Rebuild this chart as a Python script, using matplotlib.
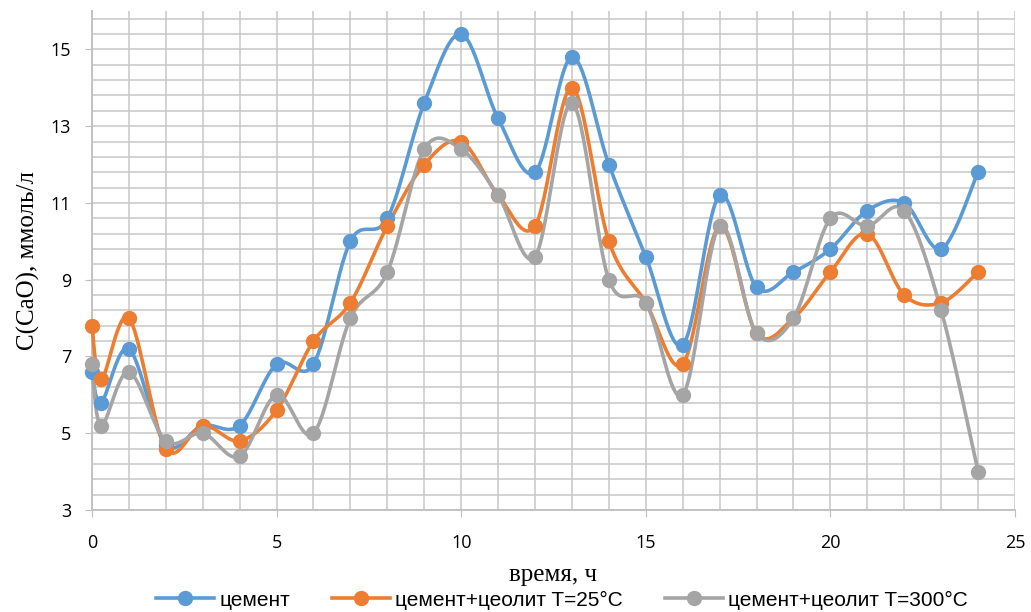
import numpy as np
from matplotlib import pyplot as plt
from matplotlib.lines import Line2D

hours = [0, 0.25, 1, 2, 3, 4, 5, 6, 7, 8, 9, 10, 11, 12, 13, 14, 15, 16, 17, 18, 19, 20, 21, 22, 23, 24]
cement = [6.6, 5.8, 7.2, 4.7, 5.2, 5.2, 6.8, 6.8, 10.0, 10.6, 13.6, 15.4, 13.2, 11.8, 14.8, 12.0,
          9.6, 7.3, 11.2, 8.8, 9.2, 9.8, 10.8, 11.0, 9.8, 11.8]
zeolite_25 = [7.8, 6.4, 8.0, 4.6, 5.2, 4.8, 5.6, 7.4, 8.4, 10.4, 12.0, 12.6, 11.2, 10.4, 14.0, 10.0,
              8.4, 6.8, 10.4, 7.6, 8.0, 9.2, 10.2, 8.6, 8.4, 9.2]
zeolite_300 = [6.8, 5.2, 6.6, 4.8, 5.0, 4.4, 6.0, 5.0, 8.0, 9.2, 12.4, 12.4, 11.2, 9.6, 13.6, 9.0,
               8.4, 6.0, 10.4, 7.6, 8.0, 10.6, 10.4, 10.8, 8.2, 4.0]
labels = ['цемент', 'цемент+цеолит T=25°C', 'цемент+цеолит T=300°C']
colors = ['#5B9BD5', '#ED7D31', '#A5A5A5']


def smooth(x, y, n=30):
    # excel-like smoothing: catmull-rom through bezier segments
    p = np.column_stack([x, y]).astype(float)
    sx, sy = 36.9, 38.4  # px per unit, so the curve bends like on screen
    p = p * [sx, sy]
    out = []
    t = np.linspace(0, 1, n)[:, None]
    for i in range(len(p) - 1):
        p0 = p[i]
        p3 = p[i + 1]
        prev = p[i - 1] if i > 0 else p[i]
        nxt = p[i + 2] if i + 2 < len(p) else p[i + 1]
        c1 = p0 + (p3 - prev) / 6
        c2 = p3 - (nxt - p0) / 6
        seg = ((1 - t) ** 3) * p0 + 3 * ((1 - t) ** 2) * t * c1 + 3 * (1 - t) * t ** 2 * c2 + t ** 3 * p3
        out.append(seg if i == 0 else seg[1:])
    out = np.vstack(out) / [sx, sy]
    return out[:, 0], out[:, 1]


fig = plt.figure(figsize=(10.31, 6.12), dpi=100)
ax = fig.add_axes([0.0892, 0.1667, 0.8953, 0.8153])

for data, color in zip([cement, zeolite_25, zeolite_300], colors):
    xs, ys = smooth(hours, data)
    ax.plot(xs, ys, color=color, lw=2.6, solid_capstyle='round', zorder=3, clip_on=False)
    ax.plot(hours, data, 'o', color=color, ms=10, zorder=4, clip_on=False)

ax.set_xlim(0, 25)
ax.set_ylim(3, 16)
ax.set_xticks(range(0, 26, 5))
ax.set_xticks(range(0, 26), minor=True)
ax.set_yticks(range(3, 16, 2))
ax.set_yticks(np.arange(3, 16.01, 0.4), minor=True)
ax.grid(which='both', color='#C8C8C8', lw=1.1, zorder=0)
ax.tick_params(which='minor', length=0)
ax.tick_params(which='major', length=5, color='#BFBFBF', labelsize=13)
ax.tick_params(axis='x', pad=12)
ax.tick_params(axis='y', pad=10)
for lab in ax.get_xticklabels() + ax.get_yticklabels():
    lab.set_family('Open Sans')
for side in ['top', 'right']:
    ax.spines[side].set_visible(False)
for side in ['left', 'bottom']:
    ax.spines[side].set_color('#BFBFBF')
    ax.spines[side].set_linewidth(1.3)

ax.set_xlabel('время, ч', fontsize=18, family='Liberation Serif', labelpad=9)
ax.set_ylabel('C(CaO), ммоль/л', fontsize=18, family='Liberation Serif', labelpad=8)

handles = [Line2D([], [], color=c, lw=2.6, marker='o', ms=10) for c in colors]
fig.legend(handles, labels, loc='lower center', bbox_to_anchor=(0.545, -0.027), ncol=3, frameon=False,
           prop={'family': ['Liberation Sans', 'DejaVu Sans'], 'size': 15},
           columnspacing=2.0, handlelength=2.8, handletextpad=0.25)

plt.savefig('out.png', dpi=100)
